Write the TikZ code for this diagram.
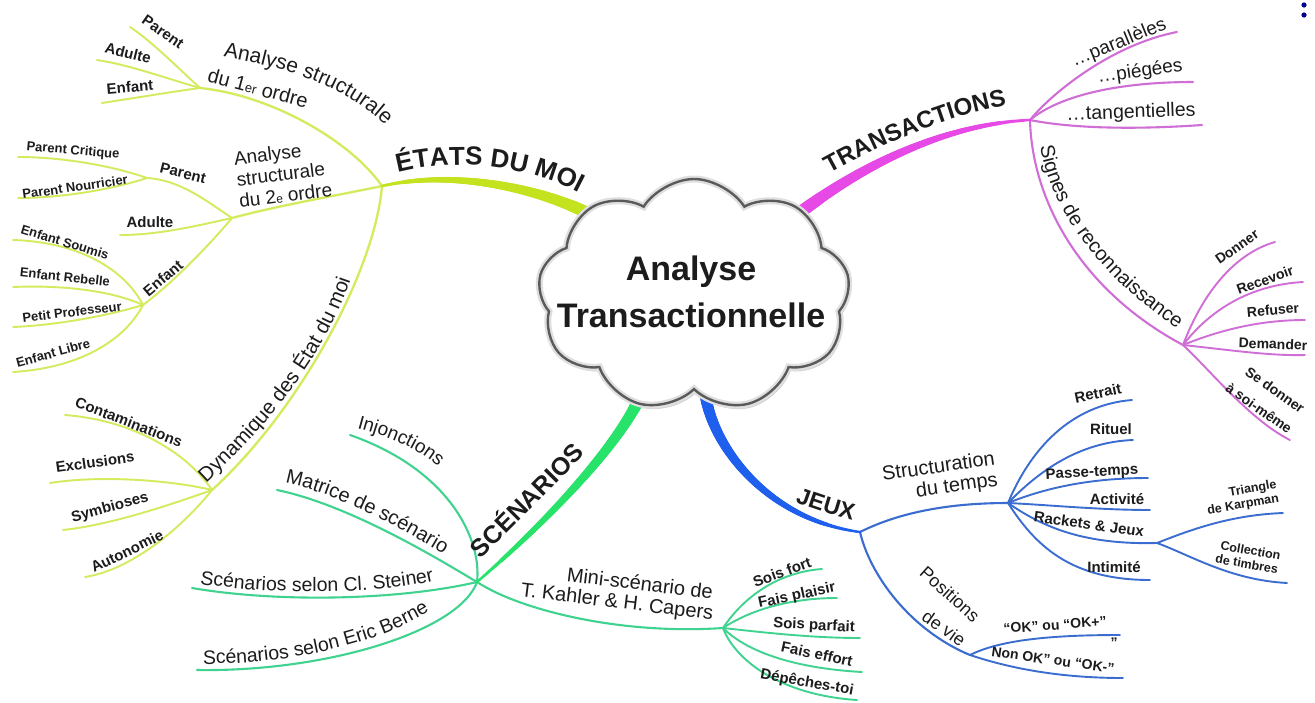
\documentclass[tikz,border=0pt]{standalone}
\usepackage{fontspec}
\setmainfont{Liberation Sans}
\usetikzlibrary{shapes.symbols,shadows,decorations.text,decorations.markings}

\definecolor{ygMain}{HTML}{C4E21E}
\definecolor{ygSub}{HTML}{D3EB5C}
\definecolor{mgMain}{HTML}{E649E6}
\definecolor{mgSub}{HTML}{CF6FD6}
\definecolor{grMain}{HTML}{27E36A}
\definecolor{grSub}{HTML}{3FD38F}
\definecolor{blMain}{HTML}{1E5FEE}
\definecolor{blSub}{HTML}{3B6CCF}
\definecolor{ink}{HTML}{1C1C1C}
\definecolor{cloudline}{HTML}{5A5A5A}

\newcommand{\myfs}[1]{\fontsize{#1}{#1}\selectfont}
\newcommand{\myfsb}[2]{\fontsize{#1}{#2}\selectfont}

\tikzset{
  taper/.style args={#1/#2/#3}{decoration={markings,
     mark=between positions 0 and 1 step 0.004 with {%
       \pgfmathsetmacro\tpr{#1+(#2-#1)*(\pgfkeysvalueof{/pgf/decoration/mark info/sequence number}-1)*0.004}%
       \fill[#3] (0,0) circle[radius=\tpr pt];}}, decorate},
  ygs/.style={draw=ygSub, line width=2.3pt, line cap=round},
  ygl/.style={draw=ygSub, line width=1.9pt, line cap=round},
  mgs/.style={draw=mgSub, line width=2.1pt, line cap=round},
  mgl/.style={draw=mgSub, line width=1.9pt, line cap=round},
  grs/.style={draw=grSub, line width=2.1pt, line cap=round},
  grl/.style={draw=grSub, line width=1.9pt, line cap=round},
  bls/.style={draw=blSub, line width=2.1pt, line cap=round},
  bll/.style={draw=blSub, line width=1.9pt, line cap=round},
  lbl/.style={font=\myfs{#1}, text=ink, inner sep=0pt},
  lbl/.default=19,
  leaf/.style={font=\bfseries\myfs{#1}, text=ink, inner sep=0pt},
  leaf/.default=14,
  along/.style={decoration={text along path, text align=center, text={#1}}, decorate},
  alongL/.style={decoration={text along path, text align=left, text={#1}}, decorate},
}

\begin{document}
\begin{tikzpicture}[x=1pt,y=-1pt]
\useasboundingbox (0,0) rectangle (1315,702);
\fill[white] (0,0) rectangle (1315,702);

% ---------- coordinates ----------
\coordinate (E0) at (604,222);
\coordinate (J1) at (382,186);
\coordinate (J1a) at (200,88);
\coordinate (J1b) at (232,218);
\coordinate (J1c) at (147,178);
\coordinate (J1d) at (143,305);
\coordinate (J1e) at (212,490);
\coordinate (eP1) at (130,27);
\coordinate (eA1) at (97,60);
\coordinate (eE1) at (102,103);
\coordinate (ePC) at (18,157);
\coordinate (ePN) at (18,198);
\coordinate (eA2) at (120,235);
\coordinate (eES) at (13,240);
\coordinate (eER) at (13,287);
\coordinate (ePP) at (13,327);
\coordinate (eEL) at (13,372);
\coordinate (eCo) at (65,415);
\coordinate (eEx) at (50,483);
\coordinate (eSy) at (63,530);
\coordinate (eAu) at (85,577);

\coordinate (T0) at (788,222);
\coordinate (J2) at (1030,120);
\coordinate (J2a) at (1183,345);
\coordinate (ePa) at (1177,32);
\coordinate (ePi) at (1193,82);
\coordinate (eTa) at (1202,125);
\coordinate (eDo) at (1275,242);
\coordinate (eRe) at (1303,282);
\coordinate (eRf) at (1305,320);
\coordinate (eDe) at (1305,355);
\coordinate (eSe) at (1290,440);

\coordinate (S0) at (636,405);
\coordinate (J3) at (477,582);
\coordinate (J3b) at (723,628);
\coordinate (eIn) at (350,435);
\coordinate (eMa) at (277,490);
\coordinate (eSt) at (192,588);
\coordinate (eBe) at (197,670);
\coordinate (eSf) at (822,569);
\coordinate (eFp) at (837,598);
\coordinate (eSp) at (860,638);
\coordinate (eFe) at (862,672);
\coordinate (eDp) at (857,700);

\coordinate (U0) at (706,398);
\coordinate (J4) at (860,532);
\coordinate (J4a) at (1008,503);
\coordinate (J4b) at (1157,543);
\coordinate (J4c) at (970,655);
\coordinate (eRt) at (1132,400);
\coordinate (eRi) at (1133,440);
\coordinate (ePt) at (1148,478);
\coordinate (eAc) at (1150,510);
\coordinate (eIt) at (1150,580);
\coordinate (eKa) at (1283,513);
\coordinate (eTi) at (1287,583);
\coordinate (eOK) at (1120,635);
\coordinate (eNO) at (1123,678);

% ---------- ETATS DU MOI branches ----------
\draw[ygs] (J1) .. controls (350,140) and (270,95) .. (J1a);
\draw[ygs] (J1) .. controls (340,195) and (280,205) .. (J1b);
\draw[ygs] (J1) .. controls (375,270) and (300,410) .. (J1e);
\draw[ygl] (J1a) .. controls (175,65) and (150,40) .. (eP1);
\draw[ygl] (J1a) .. controls (165,78) and (130,65) .. (eA1);
\draw[ygl] (J1a) .. controls (170,92) and (135,98) .. (eE1);
\draw[ygl] (J1b) .. controls (205,200) and (180,180) .. (J1c);
\draw[ygl] (J1c) .. controls (110,165) and (60,157) .. (ePC);
\draw[ygl] (J1c) .. controls (110,190) and (60,198) .. (ePN);
\draw[ygl] (J1b) .. controls (200,225) and (160,235) .. (eA2);
\draw[ygl] (J1b) .. controls (205,250) and (170,285) .. (J1d);
\draw[ygl] (J1d) .. controls (125,270) and (80,242) .. (eES);
\draw[ygl] (J1d) .. controls (110,290) and (60,285) .. (eER);
\draw[ygl] (J1d) .. controls (110,315) and (60,325) .. (ePP);
\draw[ygl] (J1d) .. controls (125,340) and (80,368) .. (eEL);
\draw[ygl] (J1e) .. controls (185,450) and (130,420) .. (eCo);
\draw[ygl] (J1e) .. controls (170,480) and (100,475) .. (eEx);
\draw[ygl] (J1e) .. controls (170,505) and (110,525) .. (eSy);
\draw[ygl] (J1e) .. controls (180,530) and (130,570) .. (eAu);

% ---------- TRANSACTIONS branches ----------
\draw[mgs] (J2) .. controls (1050,95) and (1110,45) .. (ePa);
\draw[mgs] (J2) .. controls (1060,95) and (1120,82) .. (ePi);
\draw[mgs] (J2) .. controls (1070,128) and (1130,130) .. (eTa);
\draw[mgs] (J2) .. controls (1032,200) and (1080,290) .. (J2a);
\draw[mgl] (J2a) .. controls (1200,300) and (1230,255) .. (eDo);
\draw[mgl] (J2a) .. controls (1210,310) and (1250,285) .. (eRe);
\draw[mgl] (J2a) .. controls (1220,330) and (1260,320) .. (eRf);
\draw[mgl] (J2a) .. controls (1230,350) and (1270,356) .. (eDe);
\draw[mgl] (J2a) .. controls (1210,370) and (1250,420) .. (eSe);

% ---------- SCENARIOS branches ----------
\draw[grs] (J3) .. controls (482,540) and (450,470) .. (eIn);
\draw[grs] (J3) .. controls (440,560) and (350,505) .. (eMa);
\draw[grs] (J3) .. controls (400,600) and (280,603) .. (eSt);
\draw[grs] (J3) .. controls (460,630) and (330,672) .. (eBe);
\draw[grs] (J3) .. controls (520,610) and (620,635) .. (J3b);
\draw[grl] (J3b) .. controls (745,595) and (780,572) .. (eSf);
\draw[grl] (J3b) .. controls (750,610) and (790,598) .. (eFp);
\draw[grl] (J3b) .. controls (760,632) and (810,638) .. (eSp);
\draw[grl] (J3b) .. controls (745,650) and (790,668) .. (eFe);
\draw[grl] (J3b) .. controls (735,660) and (780,695) .. (eDp);

% ---------- JEUX branches ----------
\draw[bls] (J4) .. controls (900,512) and (950,503) .. (J4a);
\draw[bls] (J4) .. controls (870,575) and (910,630) .. (J4c);
\draw[bll] (J4a) .. controls (1030,450) and (1070,405) .. (eRt);
\draw[bll] (J4a) .. controls (1040,470) and (1080,442) .. (eRi);
\draw[bll] (J4a) .. controls (1045,488) and (1090,478) .. (ePt);
\draw[bll] (J4a) .. controls (1050,505) and (1100,510) .. (eAc);
\draw[bll] (J4a) .. controls (1040,525) and (1080,545) .. (J4b);
\draw[bll] (J4a) .. controls (1035,545) and (1070,580) .. (eIt);
\draw[bll] (J4b) .. controls (1190,530) and (1230,515) .. (eKa);
\draw[bll] (J4b) .. controls (1190,555) and (1230,580) .. (eTi);
\draw[bll] (J4c) .. controls (1000,640) and (1050,635) .. (eOK);
\draw[bll] (J4c) .. controls (1000,665) and (1050,678) .. (eNO);

% ---------- main tapered branches ----------
\path[taper=1.5/6.5/ygMain] (J1) .. controls (460,168) and (555,192) .. (E0);
\path[taper=1.4/6.5/mgMain] (J2) .. controls (930,125) and (840,180) .. (T0);
\path[taper=1.4/5.8/grMain] (J3) .. controls (560,510) and (615,445) .. (S0);
\path[taper=1.3/5.8/blMain] (J4) .. controls (770,520) and (715,450) .. (U0);

% ---------- central cloud ----------
\node[cloud, cloud puffs=9, cloud puff arc=115, aspect=1.35, minimum width=312pt, minimum height=232pt,
      fill=white, draw=none, drop shadow={shadow xshift=2pt, shadow yshift=-4pt, opacity=0.35}] (cloudbg) at (694,295) {};
\node[cloud, cloud puffs=9, cloud puff arc=115, aspect=1.35, minimum width=312pt, minimum height=232pt,
      draw=gray!25, line width=7pt] (cloudglow) at (694,295) {};
\node[cloud, cloud puffs=9, cloud puff arc=115, aspect=1.35, minimum width=312pt, minimum height=232pt,
      draw=cloudline, line width=2.4pt] (cloud) at (694,295) {};
\node[font=\bfseries\myfs{34}, align=center, text=ink, inner sep=0pt] (title) at (691,292) {Analyse\\[13pt]Transactionnelle};

% ---------- main labels along paths ----------
\path[along={|\color{ink}\bfseries\myfs{26}|ÉTATS DU MOI}] (381,178) .. controls (430,160) and (520,155) .. (594,202);
\path[along={|\color{ink}\bfseries\myfs{24}|TRANSACTIONS}] (816,181) .. controls (870,150) and (950,112) .. (1022,103);
\path[along={|\color{ink}\bfseries\myfs{25}|SCÉNARIOS}] (474,566) .. controls (510,530) and (550,490) .. (592,447);
\path[along={|\color{ink}\bfseries\myfs{23}|JEUX}] (788,500) .. controls (810,508) and (835,517) .. (860,522);

% ---------- ETATS DU MOI labels ----------
\path[along={|\color{ink}\myfs{21}|Analyse structurale}] (208,54) .. controls (270,64) and (350,82) .. (396,137);
\node[lbl=20, rotate=-15] (t1b) at (258,88) {du 1{\myfs{13}er} ordre};
\node[lbl, rotate=7, align=left, font=\myfsb{19}{21.5}] (t2) at (283,174) {Analyse\\structurale\\du 2{\myfs{12}e} ordre};
\path[alongL={|\color{ink}\myfs{20.5}|Dynamique des État du moi}] (206,483) .. controls (280,415) and (345,330) .. (362,236);

\node[leaf=15, rotate=-35] (tP1) at (163,32) {Parent};
\node[leaf=15, rotate=-14] (tA1) at (128,53) {Adulte};
\node[leaf=15, rotate=5] (tE1) at (130,87) {Enfant};
\node[leaf=13, rotate=-5] (tPC) at (73,151) {Parent Critique};
\node[leaf=13, rotate=8] (tPN) at (75,187) {Parent Nourricier};
\node[leaf=15, rotate=-14] (tP2) at (183,173) {Parent};
\node[leaf=15] (tA2) at (150,222) {Adulte};
\node[leaf=15, rotate=40] (tE2) at (163,278) {Enfant};
\node[leaf=13, rotate=-17] (tES) at (65,242) {Enfant Soumis};
\node[leaf=13, rotate=-6] (tER) at (65,277) {Enfant Rebelle};
\node[leaf=13, rotate=7] (tPP) at (72,312) {Petit Professeur};
\node[leaf=13, rotate=15] (tEL) at (53,353) {Enfant Libre};
\node[leaf=15, rotate=-21] (tCo) at (129,422) {Contaminations};
\node[leaf=15, rotate=8] (tEx) at (95,462) {Exclusions};
\node[leaf=15, rotate=15] (tSy) at (110,508) {Symbioses};
\node[leaf=15, rotate=26] (tAu) at (127,551) {Autonomie};

% ---------- TRANSACTIONS labels ----------
\node[lbl, rotate=22] (tPa) at (1119,43) {…parallèles};
\node[lbl, rotate=8] (tPi) at (1140,72) {…piégées};
\node[lbl=19.5, rotate=2] (tTa) at (1131,113) {…tangentielles};
\path[along={|\color{ink}\myfs{20}|Signes de reconnaissance}] (1039,138) .. controls (1047,205) and (1095,275) .. (1184,333);
\node[leaf=14, rotate=35] (tDo) at (1237,247) {Donner};
\node[leaf=14, rotate=20] (tRe) at (1265,280) {Recevoir};
\node[leaf=14, rotate=5] (tRf) at (1273,310) {Refuser};
\node[leaf=14, rotate=-2] (tDe) at (1273,344) {Demander};
\node[leaf=14, rotate=-35] (tSe1) at (1275,390) {Se donner};
\node[leaf=14, rotate=-35] (tSe2) at (1259,408) {à soi-même};

% ---------- SCENARIOS labels ----------
\path[alongL={|\color{ink}\myfs{19}|Injonctions}] (357,428) .. controls (420,445) and (460,470) .. (483,540);
\path[alongL={|\color{ink}\myfs{20}|Matrice de scénario}] (285,483) .. controls (350,496) and (430,545) .. (472,572);
\path[alongL={|\color{ink}\myfs{19.5}|Scénarios selon Cl. Steiner}] (200,584) .. controls (280,596) and (390,594) .. (445,578);
\path[alongL={|\color{ink}\myfs{19.5}|Scénarios selon Eric Berne}] (203,664) .. controls (320,664) and (420,630) .. (458,588);
\node[lbl=20, rotate=-7] (tMini1) at (640,583) {Mini-scénario de};
\node[lbl=20, rotate=-7] (tMini2) at (617,603) {T. Kahler \& H. Capers};
\node[leaf=15, rotate=20] (tSf) at (782,572) {Sois fort};
\node[leaf=15, rotate=12] (tFp) at (797,596) {Fais plaisir};
\node[leaf=15, rotate=-3] (tSp) at (814,626) {Sois parfait};
\node[leaf=15, rotate=-12] (tFe) at (817,654) {Fais effort};
\node[leaf=15, rotate=-10] (tDp) at (807,683) {Dépêches-toi};

% ---------- JEUX labels ----------
\node[lbl=20, rotate=8, align=right, font=\myfsb{20}{21}] (tStr) at (940,478) {Structuration\\du temps};
\node[lbl=18, rotate=-42] (tPos) at (950,594) {Positions};
\node[lbl=18, rotate=-35] (tVie) at (944,628) {de vie};
\node[leaf=15, rotate=12] (tRt) at (1098,393) {Retrait};
\node[leaf=15] (tRi) at (1111,429) {Rituel};
\node[leaf=15, rotate=3] (tPt) at (1092,473) {Passe-temps};
\node[leaf=15] (tAc) at (1117,499) {Activité};
\node[leaf=15, rotate=-8] (tRJ) at (1089,524) {Rackets \& Jeux};
\node[leaf=15] (tIt) at (1114,567) {Intimité};
\node[leaf=12.5, rotate=10, align=right, font=\bfseries\myfsb{12.5}{14}] (tKa) at (1242,498) {Triangle\\de Karpman};
\node[leaf=12.5, rotate=-10, align=right, font=\bfseries\myfsb{12.5}{14}] (tTi) at (1248,557) {Collection\\de timbres};
\node[leaf=14, rotate=4] (tOK) at (1055,625) {“OK” ou “OK+”};
\node[leaf=14] (tQ) at (1114,643) {”};
\node[leaf=14, rotate=-8] (tNO) at (1053,660) {Non OK” ou “OK-”};

% ---------- cropped marks at top right ----------
\fill[blue!55!black] (1304,5) circle[radius=2.6pt];
\fill[blue!55!black] (1304,15) circle[radius=2.6pt];
\end{tikzpicture}
\end{document}
